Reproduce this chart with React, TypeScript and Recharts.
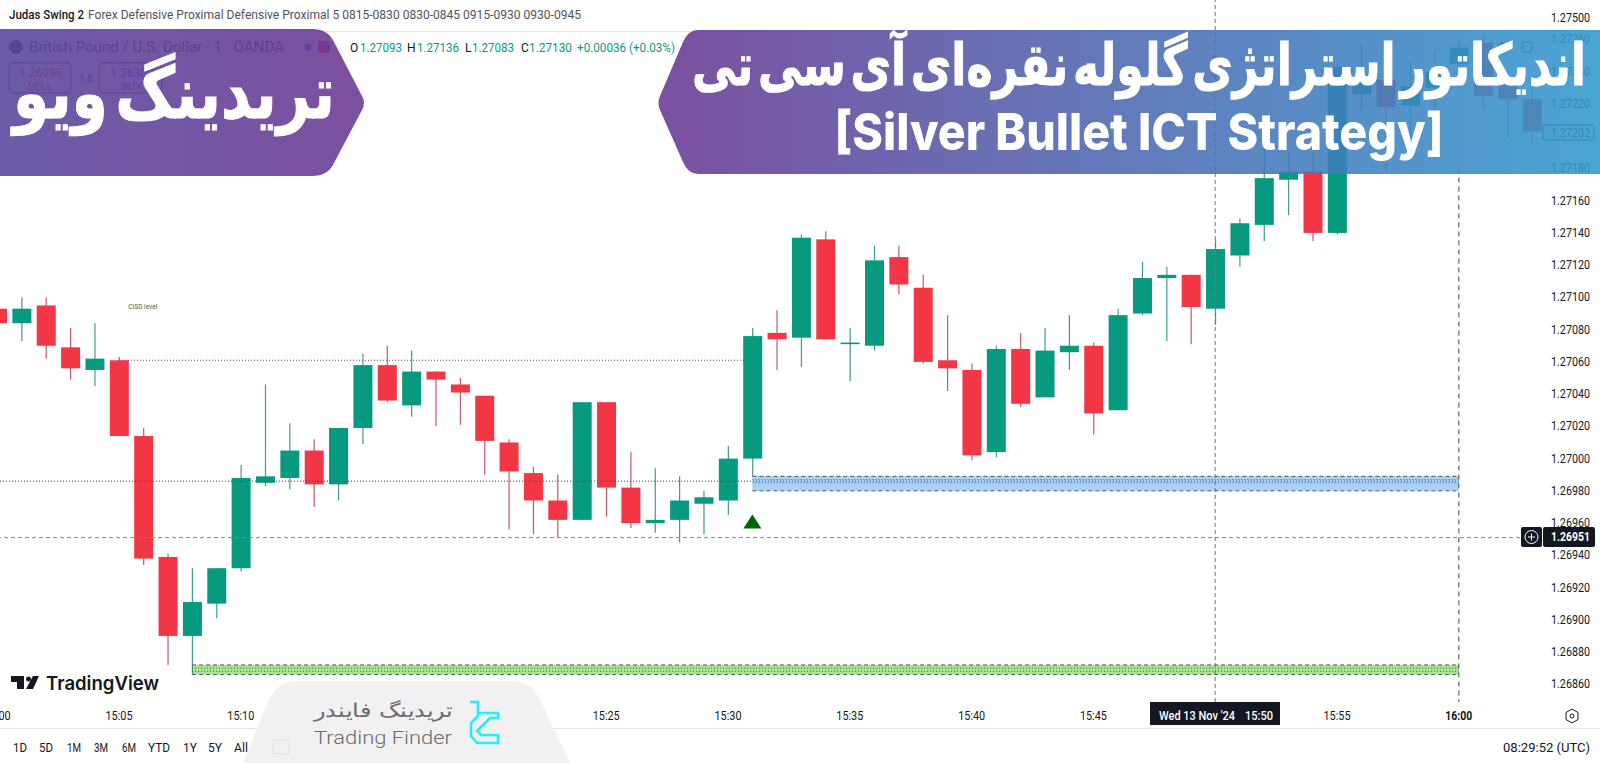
import { Bar, ComposedChart, ReferenceArea, ReferenceDot, ReferenceLine, XAxis, YAxis } from "recharts"

// minutes after 15:00, one candle per minute
const minutes = [
  0, 1, 2, 3, 4, 5, 6, 7, 8, 9, 10, 11, 12, 13, 14, 15, 16, 17, 18, 19, 20, 21, 22, 23, 24, 25, 26, 27, 28, 29, 30, 31,
  32, 33, 34, 35, 36, 37, 38, 39, 40, 41, 42, 43, 44, 45, 46, 47, 48, 49, 50, 51, 52, 53, 54, 55, 56, 57, 58, 59, 60,
  61, 62, 63,
]
const opens = [
  1.27093, 1.27084, 1.27095, 1.27069, 1.27055, 1.27061, 1.27014, 1.26939, 1.2689, 1.2691, 1.26932, 1.26985, 1.26988,
  1.27005, 1.26984, 1.27019, 1.27058, 1.27033, 1.27054, 1.27046, 1.27039, 1.2701, 1.26991, 1.26974, 1.26962, 1.27035,
  1.26982, 1.2696, 1.26962, 1.26972, 1.26974, 1.27, 1.27078, 1.27075, 1.27136, 1.27071, 1.2707, 1.27125, 1.27106,
  1.27061, 1.27055, 1.27004, 1.27068, 1.27038, 1.27066, 1.2707, 1.2703, 1.2709, 1.27112, 1.27114, 1.27093, 1.27126,
  1.27145, 1.27173, 1.27178, 1.2714, 1.27226, 1.27235, 1.27219, 1.2723, 1.27245, 1.27258, 1.27233, 1.27223,
]
const highs = [
  1.27099, 1.271, 1.271, 1.27081, 1.27084, 1.27063, 1.27019, 1.26941, 1.26932, 1.26932, 1.26996, 1.27046, 1.27022,
  1.27012, 1.27019, 1.27065, 1.2707, 1.27067, 1.27054, 1.2705, 1.27039, 1.27012, 1.26995, 1.2699, 1.27035, 1.27035,
  1.27004, 1.26994, 1.26989, 1.2698, 1.27008, 1.27081, 1.27092, 1.27139, 1.27141, 1.27081, 1.27132, 1.27132, 1.27114,
  1.27089, 1.27059, 1.2707, 1.27078, 1.27081, 1.27089, 1.27072, 1.27093, 1.27122, 1.27119, 1.27114, 1.27136, 1.27149,
  1.27192, 1.2719, 1.2719, 1.27245, 1.27258, 1.27249, 1.27247, 1.27253, 1.2726, 1.27263, 1.27241, 1.27232,
]
const lows = [
  1.2708, 1.27073, 1.27062, 1.27049, 1.27045, 1.27014, 1.26934, 1.26872, 1.26866, 1.26901, 1.2693, 1.26983, 1.26981,
  1.2697, 1.26974, 1.27009, 1.27035, 1.27026, 1.2702, 1.27021, 1.2699, 1.26956, 1.26953, 1.26951, 1.26962, 1.26964,
  1.26957, 1.26954, 1.26948, 1.26953, 1.26965, 1.26989, 1.27055, 1.27057, 1.27074, 1.27048, 1.27067, 1.27102, 1.27059,
  1.27042, 1.26999, 1.27001, 1.27032, 1.27038, 1.27055, 1.27015, 1.2703, 1.27089, 1.27073, 1.27071, 1.27083, 1.27119,
  1.27135, 1.27151, 1.27135, 1.27139, 1.27216, 1.27179, 1.27185, 1.27216, 1.27229, 1.27216, 1.27199, 1.27195,
]
const closes = [
  1.27084, 1.27093, 1.2707, 1.27056, 1.27062, 1.27014, 1.26938, 1.2689, 1.26911, 1.26932, 1.26988, 1.26989, 1.27005,
  1.26984, 1.27019, 1.27058, 1.27036, 1.27054, 1.27049, 1.27041, 1.27011, 1.26992, 1.26974, 1.26962, 1.27035, 1.26982,
  1.2696, 1.26962, 1.26974, 1.26976, 1.27, 1.27076, 1.27074, 1.27137, 1.27074, 1.27072, 1.27123, 1.27108, 1.2706,
  1.27056, 1.27002, 1.27068, 1.27034, 1.27067, 1.2707, 1.27028, 1.27089, 1.27112, 1.27114, 1.27094, 1.2713, 1.27146,
  1.27174, 1.27178, 1.2714, 1.27243, 1.27235, 1.27218, 1.27231, 1.2724, 1.27255, 1.27225, 1.27223, 1.27203,
]

const priceTicks = [
  1.2686, 1.2688, 1.269, 1.2692, 1.2694, 1.2696, 1.2698, 1.27, 1.2702, 1.2704, 1.2706, 1.2708, 1.271, 1.2712, 1.2714,
  1.2716, 1.2718, 1.2722, 1.2724, 1.2726,
]
const timeTicks = [0, 5, 10, 15, 20, 25, 30, 35, 40, 45, 50, 55, 60]
const timeLabels = ["15:00", "15:05", "15:10", "15:15", "15:20", "15:25", "15:30", "15:35", "15:40", "15:45", "15:50", "15:55", "16:00"]
const rangeButtons = ["1D", "5D", "1M", "3M", "6M", "YTD", "1Y", "5Y", "All"]

const lastPrice = 1.26951
const upperLevel = 1.27061
const cisdLevel = 1.26986
const blueZone = [1.2698, 1.26989]
const blueMid = [1.26985, 1.26987]
const greenZone = [1.26866, 1.26872]
const greenMid = [1.26868, 1.2687]

const candles = minutes.map((t, i) => ({ t, open: opens[i], high: highs[i], low: lows[i], close: closes[i] }))

const UP = "#089981"
const DOWN = "#f23645"
const INK = "#131722"

const Candle = (props: any) => {
  const { x, y, width, height, payload } = props
  const top = Math.min(y, y + height)
  const span = Math.abs(height)
  const perPrice = span / (payload.high - payload.low)
  const yOf = (p: number) => top + (payload.high - p) * perPrice
  const rising = payload.close >= payload.open
  const bodyTop = yOf(Math.max(payload.open, payload.close))
  const bodyH = Math.max(1.5, Math.abs(yOf(payload.open) - yOf(payload.close)))
  const mid = x + width / 2
  return (
    <g>
      <line x1={mid} x2={mid} y1={top} y2={top + span} stroke={rising ? "#3f9c8a" : "#c0596a"} strokeWidth={1.2} />
      <rect x={x} y={bodyTop} width={width} height={bodyH} fill={rising ? UP : DOWN} />
    </g>
  )
}

const PriceTick = ({ x, y, payload }: any) => (
  <text x={x - 5} y={y + 4} fontSize={12} fontFamily="Roboto" fill={INK} textLength={39} lengthAdjust="spacingAndGlyphs">
    {payload.value.toFixed(5)}
  </text>
)

const TimeTick = ({ x, payload }: any) => {
  const bold = payload.value === 60
  return (
    <text
      x={x}
      y={720}
      textAnchor="middle"
      fontSize={12}
      fontFamily="Roboto"
      fontWeight={bold ? 700 : 400}
      fill={INK}
      textLength={27}
      lengthAdjust="spacingAndGlyphs"
    >
      {timeLabels[timeTicks.indexOf(payload.value)]}
    </text>
  )
}

const Label = ({ x, y, w, children, fill = INK, size = 12, weight = 400, anchor = "start", family = "Roboto" }: any) => (
  <text
    x={x}
    y={y}
    fill={fill}
    fontSize={size}
    fontWeight={weight}
    fontFamily={family}
    textAnchor={anchor}
    textLength={w}
    lengthAdjust={w ? "spacingAndGlyphs" : undefined}
  >
    {children}
  </text>
)

const Overlay = () => (
  <svg width={1600} height={763} style={{ position: "absolute", left: 0, top: 0, pointerEvents: "none" }}>
    <defs>
      <linearGradient id="rightBanner" gradientUnits="userSpaceOnUse" x1={658} x2={1600} y1={0} y2={0}>
        <stop offset="0" stopColor="#693792" />
        <stop offset="0.55" stopColor="#496eb4" />
        <stop offset="1" stopColor="#3199cf" />
      </linearGradient>
      <linearGradient id="leftBanner" gradientUnits="userSpaceOnUse" x1={0} x2={366} y1={0} y2={0}>
        <stop offset="0" stopColor="#57459c" />
        <stop offset="1" stopColor="#6a3792" />
      </linearGradient>
    </defs>

    {/* top study line */}
    <Label x={9} y={19} w={75} weight={500}>Judas Swing 2</Label>
    <Label x={88} y={19} w={493} fill="#50535e">Forex Defensive Proximal Defensive Proximal 5 0815-0830 0830-0845 0915-0930 0930-0945</Label>
    <rect x={0} y={31} width={1600} height={1} fill="#e0e3eb" />
    <Label x={1551} y={22} w={39}>1.27500</Label>

    {/* symbol row and trade buttons, mostly under the left banner */}
    <circle cx={16} cy={47} r={7} fill="#50535e" />
    <Label x={29} y={52} w={255} size={15} fill="#50535e">British Pound / U.S. Dollar · 1 · OANDA</Label>
    <circle cx={308} cy={47} r={3.5} fill="#2962ff" />
    <rect x={318} y={41} width={12} height={12} rx={2} fill={DOWN} />
    <rect x={9} y={63} width={62} height={30} rx={5} fill="none" stroke="#50535e" />
    <Label x={19} y={77} size={12} fill={DOWN}>1.26290</Label>
    <Label x={28} y={90} size={11} fill={DOWN}>SELL</Label>
    <Label x={79} y={82} size={10} fill="#50535e">1.8</Label>
    <rect x={99} y={63} width={63} height={30} rx={5} fill="none" stroke="#50535e" />
    <Label x={110} y={77} size={12} fill="#2962ff">1.26300</Label>
    <Label x={121} y={90} size={11} fill="#2962ff">BUY</Label>

    <Label x={350} y={52}>O</Label>
    <Label x={360} y={52} w={42} fill={UP}>1.27093</Label>
    <Label x={407} y={52}>H</Label>
    <Label x={417} y={52} w={42} fill={UP}>1.27136</Label>
    <Label x={465} y={52}>L</Label>
    <Label x={472} y={52} w={42} fill={UP}>1.27083</Label>
    <Label x={521} y={52}>C</Label>
    <Label x={529} y={52} w={43} fill={UP}>1.27130</Label>
    <Label x={577} y={52} w={98} fill={UP}>+0.00036 (+0.03%)</Label>

    {/* toolbar icons and current price box under the banner */}
    <path d="M1502 54 V42 M1498 46 L1502 42 L1506 46" fill="none" stroke={INK} />
    <rect x={1522} y={42} width={10} height={10} rx={2} fill="none" stroke={INK} />
    <rect x={1543} y={125} width={51} height={15} rx={2} fill="none" stroke={INK} />
    <Label x={1551} y={137} w={39}>1.27202</Label>

    {/* banners */}
    <path
      d="M0 29 H312 Q328 29 334 42 L362 96 Q366 103 362 110 L334 163 Q328 176 312 176 H0 Z"
      fill="url(#leftBanner)"
      fillOpacity={0.88}
    />
    <path
      d="M1600 30 H698 Q688 30 683 42 L660 96 Q657 103 660 110 L683 162 Q688 174 698 174 H1600 Z"
      fill="url(#rightBanner)"
      fillOpacity={0.88}
    />
    <text x={174} y={118} fontFamily="DejaVu Sans" fontWeight={700} fontSize={72} wordSpacing={-16} stroke="#fff" strokeWidth={1} fill="#fff" textAnchor="middle" direction="rtl" textLength={322} lengthAdjust="spacingAndGlyphs">
      تریدینگ ویو
    </text>
    <text x={1139} y={85} fontFamily="DejaVu Sans" fontWeight={700} fontSize={58} wordSpacing={-14} stroke="#fff" strokeWidth={1} fill="#fff" textAnchor="middle" direction="rtl" textLength={894} lengthAdjust="spacingAndGlyphs">
      اندیکاتور استراتژی گلوله نقره‌ای آی سی تی
    </text>
    <text x={1139} y={150} fontFamily="Inter" fontWeight={800} fontSize={51} fill="#fff" textAnchor="middle" textLength={609} lengthAdjust="spacingAndGlyphs">
      [Silver Bullet ICT Strategy]
    </text>

    {/* crosshair price label */}
    <rect x={1521} y={527} width={21} height={20} rx={2} fill={INK} />
    <circle cx={1531.5} cy={537} r={6.5} fill="none" stroke="#fff" />
    <path d="M1531.5 533.5 V540.5 M1528 537 H1535" stroke="#fff" />
    <rect x={1543} y={527} width={52} height={20} rx={2} fill={INK} />
    <Label x={1551} y={541} w={39} fill="#fff" weight={700}>1.26951</Label>

    {/* crosshair date label */}
    <rect x={1150} y={702} width={130} height={23} fill={INK} />
    <Label x={1159} y={720} w={76} fill="#fff" weight={500}>Wed 13 Nov '24</Label>
    <Label x={1245} y={720} w={28} fill="#fff" weight={500}>15:50</Label>

    {/* TradingView mark */}
    <path d="M11 676 H24 V689 H17 V682 H11 Z M33 676 H39 L33 689 H26 Z" fill={INK} />
    <circle cx={28.5} cy={679} r={2.5} fill={INK} />
    <Label x={46} y={690} w={113} size={19} weight={600} family="Inter" fill={INK}>TradingView</Label>

    {/* axis furniture */}
    <rect x={0} y={728} width={1600} height={1} fill="#e0e3eb" />
    {rangeButtons.map((b, i) => (
      <Label key={b} x={[20, 46, 74, 101, 129, 159, 190, 215, 241][i]} y={752} anchor="middle" w={b === "YTD" ? 22 : 14}>
        {b}
      </Label>
    ))}
    <Label x={1503} y={752} w={87}>08:29:52 (UTC)</Label>
    <path d="M1572 709 L1578 712.5 V719.5 L1572 723 L1566 719.5 V712.5 Z" fill="none" stroke={INK} />
    <circle cx={1572} cy={716} r={2} fill="none" stroke={INK} />

    {/* Trading Finder badge */}
    <path d="M243 763 L268 702 Q277 681 297 681 H512 Q532 681 541 702 L570 763 Z" fill="#f1f1f1" />
    <rect x={273} y={740} width={16} height={14} fill="none" stroke="#e2e2e2" />
    <Label x={452} y={717} anchor="end" w={138} size={19} weight={200} fill="#6b6b6b" family="DejaVu Sans">تریدینگ فایندر</Label>
    <Label x={314} y={744} w={138} size={19} weight={300} fill="#6b6b6b" family="Roboto">Trading Finder</Label>
    <path
      d="M470 702 H478 V716 L471 723 V736 L477 743 H498 V735 H481 L477 731 L490 718 H498 V713 H479"
      fill="none"
      stroke="#22eef5"
      strokeWidth={2.5}
    />
  </svg>
)

export default function App() {
  return (
    <div style={{ position: "absolute", left: 0, top: 0, width: 1600, height: 763, overflow: "hidden", background: "#fff" }}>
      <ComposedChart
        width={1600}
        height={763}
        data={candles}
        margin={{ top: 0, right: 0, bottom: 0, left: 0 }}
        barCategoryGap={0}
      >
        <XAxis
          dataKey="t"
          type="number"
          domain={[0.115, 63.66]}
          allowDataOverflow
          ticks={timeTicks}
          interval={0}
          height={61}
          axisLine={false}
          tickLine={false}
          tick={<TimeTick />}
        />
        <YAxis
          orientation="right"
          type="number"
          domain={[1.26849, 1.272845]}
          allowDataOverflow
          ticks={priceTicks}
          interval={0}
          width={52}
          axisLine={false}
          tickLine={false}
          tick={<PriceTick />}
        />

        <ReferenceArea x1={8} x2={60} y1={greenZone[0]} y2={greenZone[1]} fill="#a6e58f" fillOpacity={1} stroke="none" />
        <ReferenceArea x1={31} x2={60} y1={blueZone[0]} y2={blueZone[1]} fill="#a9d1f7" fillOpacity={1} stroke="none" />

        <ReferenceLine segment={[{ x: 5, y: upperLevel }, { x: 31, y: upperLevel }]} stroke="#555" strokeDasharray="1 2" />
        <ReferenceLine segment={[{ x: 0.115, y: cisdLevel }, { x: 60, y: cisdLevel }]} stroke="#444" strokeDasharray="1 2" />
        {blueMid.map((p) => (
          <ReferenceLine key={p} segment={[{ x: 31, y: p }, { x: 60, y: p }]} stroke="#3d6f9e" strokeDasharray="1 2" />
        ))}
        {blueZone.map((p) => (
          <ReferenceLine key={p} segment={[{ x: 31, y: p }, { x: 60, y: p }]} stroke="#555" strokeDasharray="4 3" />
        ))}
        {greenMid.map((p) => (
          <ReferenceLine key={p} segment={[{ x: 8, y: p }, { x: 60, y: p }]} stroke="#2f7a2f" strokeDasharray="1 2" />
        ))}
        {greenZone.map((p) => (
          <ReferenceLine key={p} segment={[{ x: 8, y: p }, { x: 60, y: p }]} stroke="#555" strokeDasharray="4 3" />
        ))}

        <Bar dataKey={(d: any) => [d.low, d.high]} barSize={19} shape={<Candle />} isAnimationActive={false} />

        <ReferenceLine y={lastPrice} stroke="#888" strokeDasharray="4 3" />
        <ReferenceLine x={50} stroke="#777" strokeDasharray="4 3" />
        <ReferenceLine segment={[{ x: 60, y: 1.2718 }, { x: 60, y: 1.26849 }]} stroke="#444" strokeDasharray="5 4" />

        <ReferenceDot
          x={31}
          y={1.26961}
          shape={({ cx, cy }: any) => <path d={`M${cx} ${cy - 7} L${cx + 9} ${cy + 7} H${cx - 9} Z`} fill="#006400" />}
        />
        <ReferenceDot
          x={6}
          y={1.27094}
          shape={({ cx, cy }: any) => (
            <text x={cx - 15} y={cy + 2} fontSize={6.5} fontFamily="Roboto" fill="#2f6b3a">
              CISD level
            </text>
          )}
        />
      </ComposedChart>
      <Overlay />
    </div>
  )
}
